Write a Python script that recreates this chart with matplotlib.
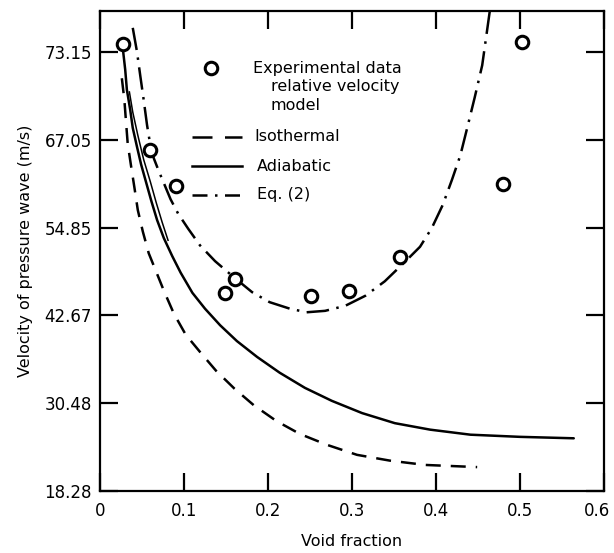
import numpy as np
import matplotlib
matplotlib.use("Agg")
import matplotlib.pyplot as plt
import matplotlib.transforms as mtransforms
from matplotlib.lines import Line2D

# experimental data (relative velocity model)
exp_x = [0.027, 0.060, 0.090, 0.149, 0.161, 0.251, 0.296, 0.357, 0.480, 0.502]
exp_y = [80.4, 65.6, 60.6, 45.8, 47.7, 45.4, 46.1, 50.8, 60.9, 80.6]

# isothermal curve
iso_x = [0.026, 0.029, 0.031, 0.033, 0.037, 0.041, 0.045, 0.051, 0.058, 0.067,
         0.076, 0.088, 0.102, 0.119, 0.138, 0.160, 0.183, 0.210, 0.238, 0.270,
         0.306, 0.345, 0.387, 0.449]
iso_y = [75.6, 72.6, 69.5, 66.5, 63.4, 60.4, 57.3, 54.3, 51.3, 48.7,
         46.1, 42.9, 40.0, 37.6, 35.0, 32.5, 30.2, 28.0, 26.2, 24.7,
         23.3, 22.5, 21.9, 21.6]

# adiabatic curve
adi_x = [0.027, 0.030, 0.032, 0.036, 0.039, 0.044, 0.049, 0.055, 0.061, 0.068,
         0.076, 0.086, 0.096, 0.110, 0.125, 0.143, 0.163, 0.187, 0.214, 0.244,
         0.276, 0.312, 0.351, 0.393, 0.441, 0.500, 0.564]
adi_y = [79.9, 76.8, 74.0, 71.2, 68.7, 66.1, 63.6, 61.1, 58.6, 55.9,
         53.4, 50.9, 48.6, 45.8, 43.6, 41.3, 39.1, 36.9, 34.7, 32.6,
         30.8, 29.1, 27.7, 26.8, 26.1, 25.8, 25.6]
# second trace of the adiabatic line near the top
adi2_x = [0.035, 0.039, 0.045, 0.052, 0.060, 0.067, 0.074, 0.081]
adi2_y = [73.7, 70.9, 67.7, 64.3, 61.2, 58.3, 55.6, 53.1]

# Eq. (2)
eq_x = [0.039, 0.044, 0.048, 0.052, 0.056, 0.0595, 0.064, 0.070, 0.0765, 0.084,
        0.093, 0.105, 0.119, 0.137, 0.158, 0.181, 0.202, 0.226, 0.246, 0.268,
        0.292, 0.316, 0.339, 0.363, 0.381, 0.395, 0.408, 0.419, 0.429, 0.438,
        0.446, 0.455, 0.464]
eq_y = [82.6, 79.3, 75.9, 72.6, 69.1, 66.6, 64.5, 62.7, 60.9, 58.8,
        56.8, 54.7, 52.4, 50.2, 48.1, 45.9, 44.5, 43.6, 43.1, 43.3,
        44.0, 45.4, 47.4, 50.1, 52.2, 54.8, 58.0, 61.5, 64.9, 69.1,
        72.9, 77.4, 84.9]

xticks = [0, 0.1, 0.2, 0.3, 0.4, 0.5, 0.6]
xticklabels = ["0", "0.1", "0.2", "0.3", "0.4", "0.5", "0.6"]
yticks = [18.28, 30.48, 42.67, 54.85, 67.05, 79.25]
yticklabels = ["18.28", "30.48", "42.67", "54.85", "67.05", "73.15"]

plt.rcParams["font.family"] = "DejaVu Sans"

fig = plt.figure(figsize=(6.14, 5.53), dpi=100)
ax = fig.add_axes([100 / 614, 1 - 491 / 553, 504 / 614, 480 / 553])

lw = 1.8
ax.plot(iso_x, iso_y, color="black", lw=lw, dashes=(6, 4))
ax.plot(adi_x, adi_y, color="black", lw=lw, solid_capstyle="round")
ax.plot(adi2_x, adi2_y, color="black", lw=1.1)
ax.plot(eq_x, eq_y, color="black", lw=lw, dashes=(9, 3, 1, 3))
ax.plot(exp_x, exp_y, "o", ms=9, mfc="white", mec="black", mew=2.2, ls="none")

ax.set_xlim(0, 0.6)
ax.set_ylim(18.28, 84.94)
ax.set_xticks(xticks)
ax.set_xticklabels(xticklabels)
ax.set_yticks(yticks)
ax.set_yticklabels(yticklabels)
ax.tick_params(direction="in", length=13, width=1.6, top=True, right=True,
               labelsize=12)
ax.tick_params(axis="x", pad=8)
ax.tick_params(axis="y", pad=6)
for s in ax.spines.values():
    s.set_linewidth(1.6)

# keep the last x label inside the figure
last = ax.get_xticklabels()[-1]
last.set_transform(last.get_transform() +
                   mtransforms.ScaledTranslation(-5 / 72, 0, fig.dpi_scale_trans))

ax.set_xlabel("Void fraction", fontsize=11.5, labelpad=10)
ax.set_ylabel("Velocity of pressure wave (m/s)", fontsize=11.5, labelpad=8)

# legend drawn by hand
tr = ax.transAxes
fs = 11.5
ax.add_line(Line2D([0.2202], [0.881], marker="o", ms=9, mfc="white", mec="black",
                   mew=2.2, transform=tr))
ax.text(0.3036, 0.881, "Experimental data", transform=tr, fontsize=fs, va="center")
ax.text(0.339, 0.843, "relative velocity", transform=tr, fontsize=fs, va="center")
ax.text(0.339, 0.804, "model", transform=tr, fontsize=fs, va="center")
ax.add_line(Line2D([0.182, 0.281], [0.738, 0.738], color="black", lw=lw,
                   dashes=(8, 5), transform=tr))
ax.text(0.3056, 0.738, "Isothermal", transform=tr, fontsize=fs, va="center")
ax.add_line(Line2D([0.182, 0.281], [0.677, 0.677], color="black", lw=lw, transform=tr))
ax.text(0.311, 0.677, "Adiabatic", transform=tr, fontsize=fs, va="center")
ax.add_line(Line2D([0.182, 0.281], [0.6167, 0.6167], color="black", lw=lw,
                   dashes=(6, 3, 1, 3), transform=tr))
ax.text(0.311, 0.6167, "Eq. (2)", transform=tr, fontsize=fs, va="center")

fig.savefig("out.png", dpi=100)
